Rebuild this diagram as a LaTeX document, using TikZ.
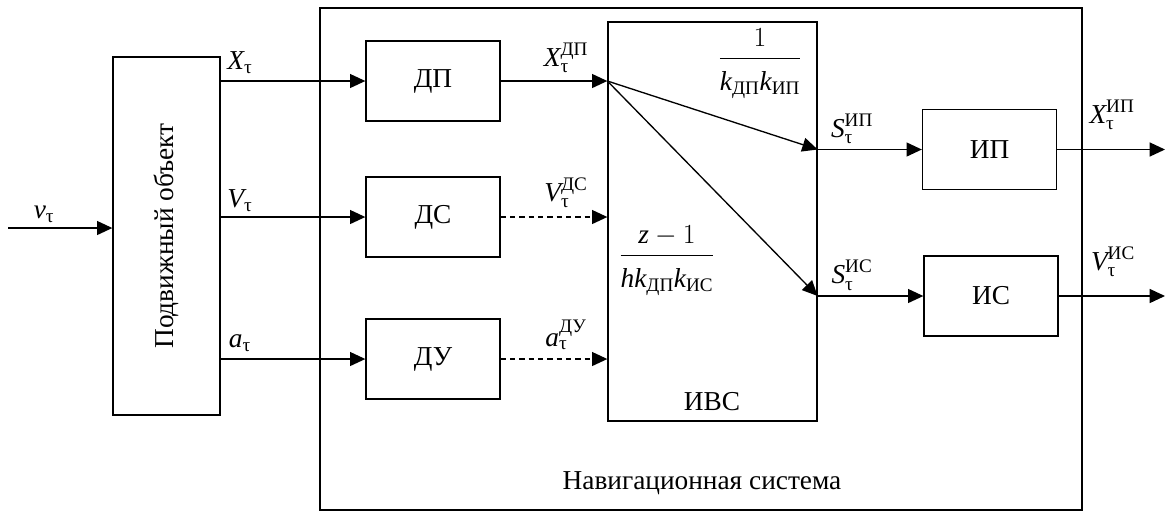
\documentclass[tikz,border=0pt]{standalone}
\usepackage{amsmath}
\usepackage{fontspec}
\setmainfont{Liberation Serif}
\usetikzlibrary{arrows.meta}
\newcommand{\iv}[1]{\text{\itshape #1}}
\newcommand{\cy}[1]{\text{#1}}
\newcommand{\ta}{\text{τ}}
\begin{document}
\begin{tikzpicture}[x=0.75pt,y=-0.75pt,
  font=\fontsize{20.5}{24}\selectfont,
  blk/.style={draw, line width=1pt, inner sep=0pt},
  arr/.style={line width=1pt, -{Triangle[length=11.5pt,width=10.5pt]}},
  darr/.style={arr, dash pattern=on 4pt off 3pt},
  lbl/.style={inner sep=0pt}]
\useasboundingbox (0,0) rectangle (1169,512);
% boxes
\node[blk, minimum width=571.5pt, minimum height=376.5pt] (nav) at (701,259) {};
\node[blk, fill=white, minimum width=80.25pt, minimum height=268.5pt] (obj) at (166.5,236) {};
\node[lbl, rotate=90] (objt) at (obj.center) {Подвижный объект};
\node[blk, minimum width=100.5pt, minimum height=60pt] (dp) at (433,81) {ДП};
\node[blk, minimum width=100.5pt, minimum height=60pt] (ds) at (433,217) {ДС};
\node[blk, minimum width=100.5pt, minimum height=60pt] (du) at (433,359) {ДУ};
\node[blk, minimum width=156.75pt, minimum height=299.25pt] (ivs) at (712.5,221.5) {};
\node[lbl] (ivst) at (712,402) {ИВС};
\node[blk, minimum width=100.5pt, minimum height=60pt] (ip) at (989.5,149.5) {ИП};
\node[blk, minimum width=100.5pt, minimum height=60pt] (is) at (991,296) {ИС};
\node[lbl] (navt) at (702,483) {Навигационная система};
% coordinates
\coordinate (vin) at (8,228);
\coordinate (xout) at (1165,149.5);
\coordinate (vout) at (1165,296);
% connectors
\draw[arr] (vin) -- (obj.west |- vin);
\draw[arr] (obj.east |- dp.west) -- (dp.west);
\draw[arr] (obj.east |- ds.west) -- (ds.west);
\draw[arr] (obj.east |- du.west) -- (du.west);
\draw[arr] (dp.east) -- (ivs.west |- dp.east);
\draw[darr] (ds.east) -- (ivs.west |- ds.east);
\draw[darr] (du.east) -- (ivs.west |- du.east);
\draw[arr] (ivs.west |- dp.east) -- (ivs.east |- ip.west);
\draw[arr] (ivs.west |- dp.east) -- (ivs.east |- is.west);
\draw[arr] (ivs.east |- ip.west) -- (ip.west);
\draw[arr] (ivs.east |- is.west) -- (is.west);
\draw[arr] (ip.east) -- (xout);
\draw[arr] (is.east) -- (vout);
% labels
\node[lbl] (lv) at (44,214) {$\iv{v}_{\ta}$};
\node[lbl] (lx) at (240,63) {$\iv{X}_{\ta}$};
\node[lbl] (lV) at (240,201) {$\iv{V}_{\ta}$};
\node[lbl] (la) at (240,343) {$\iv{a}_{\ta}$};
\node[lbl] (lxdp) at (566,58) {$\iv{X}_{\ta}^{\cy{ДП}}$};
\node[lbl] (lvds) at (566,193) {$\iv{V}_{\ta}^{\cy{ДС}}$};
\node[lbl] (ladu) at (566,335) {$\iv{a}_{\ta}^{\cy{ДУ}}$};
\node[lbl] (lsip) at (852,129) {$\iv{S}_{\ta}^{\cy{ИП}}$};
\node[lbl] (lsis) at (852,275) {$\iv{S}_{\ta}^{\cy{ИС}}$};
\node[lbl] (lxip) at (1112,115) {$\iv{X}_{\ta}^{\cy{ИП}}$};
\node[lbl] (lvis) at (1113,262) {$\iv{V}_{\ta}^{\cy{ИС}}$};
\node[lbl] (f1) at (760,64) {$\dfrac{1}{\rule{0pt}{21pt}\iv{k}_{\cy{ДП}}\iv{k}_{\cy{ИП}}}$};
\node[lbl] (f2) at (667,261) {$\dfrac{\iv{z}-1}{\rule{0pt}{21pt}\iv{hk}_{\cy{ДП}}\iv{k}_{\cy{ИС}}}$};
\end{tikzpicture}
\end{document}
